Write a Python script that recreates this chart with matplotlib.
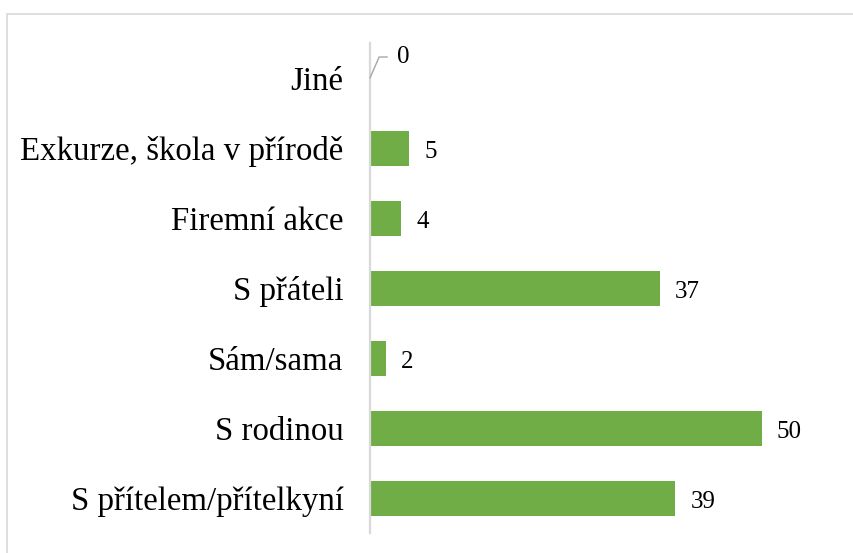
import matplotlib
matplotlib.use("Agg")
import matplotlib.pyplot as plt
from matplotlib.patches import Rectangle

categories = ["S přítelem/přítelkyní", "S rodinou", "Sám/sama", "S přáteli",
              "Firemní akce", "Exkurze, škola v přírodě", "Jiné"]
values = [39, 50, 2, 37, 4, 5, 0]

plt.rcParams['font.family'] = ['Liberation Serif', 'DejaVu Serif']

fig = plt.figure(figsize=(8.54, 5.53), dpi=100)
ax = fig.add_axes([370/854, 20/553, 470/854, 490/553])

green = "#70AD47"
ypos = list(range(len(categories)))
ax.barh(ypos, values, height=0.5, color=green)
ax.set_xlim(0, 60)
ax.set_ylim(-0.5, len(categories) - 0.5)
ax.set_yticks(ypos)
ax.set_yticklabels(categories, fontsize=23.7)
ax.tick_params(axis='y', length=0, pad=19)
ax.set_xticks([])
for s in ['top', 'right', 'bottom']:
    ax.spines[s].set_visible(False)
ax.spines['left'].set_color('#D9D9D9')
ax.spines['left'].set_linewidth(1.6)

for y, v in zip(ypos, values):
    if v == 0:
        ax.annotate(str(v), xy=(v, y), xytext=(27, 21), textcoords='offset pixels',
                    ha='left', va='center', fontsize=18,
                    arrowprops=dict(arrowstyle='-', color='#A6A6A6', lw=1.0,
                                    connectionstyle='angle,angleA=0,angleB=66.5,rad=0',
                                    relpos=(0, 0.5), shrinkA=5, shrinkB=0))
    else:
        ax.annotate(str(v), xy=(v, y), xytext=(15, -4), textcoords='offset pixels',
                    ha='left', va='center', fontsize=18)

fig.patches.append(Rectangle((7.5/854, -0.5), 2, 1.5 - 13.5/553, transform=fig.transFigure,
                             fill=False, edgecolor='#D9D9D9', lw=1.2))

fig.savefig("out.png", dpi=100)
